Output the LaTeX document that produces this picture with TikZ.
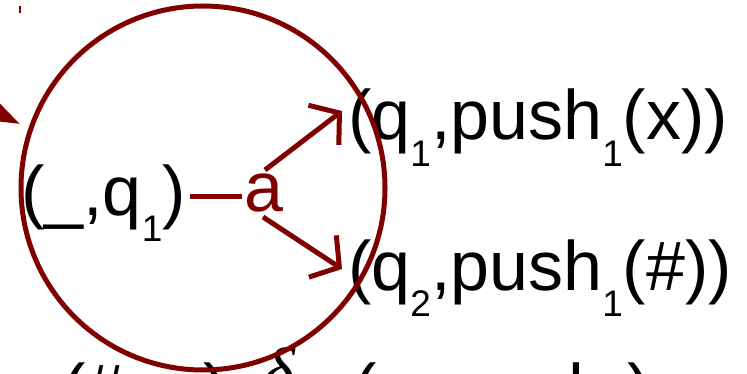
\documentclass[tikz,border=0pt]{standalone}
\usepackage{fontspec}
\setmainfont{Liberation Sans}
\newfontfamily\grkfont{Liberation Serif}
\usetikzlibrary{arrows.meta}
\definecolor{dred}{HTML}{800000}
\newcommand\sbx[1]{\raisebox{-27pt}{\fontsize{37}{40}\selectfont #1}}
\begin{document}
\begin{tikzpicture}[x=1pt,y=-1pt,
  lbl/.style={inner sep=0pt,anchor=base west,font=\fontsize{70}{80}\selectfont},
  redln/.style={draw=dred,line width=5pt},
  barb/.style={-{Straight Barb[length=20pt,width=50pt]}}]
\useasboundingbox (0,0) rectangle (747,374);
\clip (0,0) rectangle (747,374);
% texts
\node[lbl] (src) at (21,215) {(\_,q\sbx{1})};
\node[lbl,text=dred] (a) at (244,212) {a};
\node[lbl] (t1) at (348,140) {(q\sbx{1},push\sbx{1}(x))};
\node[lbl] (t2) at (348,290) {(q\sbx{2},push\sbx{1}(\#))};
\node[lbl] (b1) at (62,413) {(\#,q\sbx{1})};
\node[lbl] (b2) at (262,396) {\grkfont\itshape δ};
\node[lbl] (b3) at (353,413) {(q\sbx{1},push\sbx{1})};
% connectors
\coordinate (s0) at (190,197);
\coordinate (s1) at (242,197);
\coordinate (u0) at (265,170);
\coordinate (u1) at (342,111);
\coordinate (d0) at (263,217);
\coordinate (d1) at (342,269);
\draw[redln] (s0) -- (s1);
\draw[redln,barb] (u0) -- (u1);
\draw[redln,barb] (d0) -- (d1);
% circle
\coordinate (cc) at (203,188);
\draw[redln] (cc) circle[radius=182];
% incoming arrow (cut off)
\coordinate (in0) at (-80,75);
\coordinate (in1) at (20,124);
\draw[redln,-{Triangle[length=36pt,width=24pt]}] (in0) -- (in1);
\coordinate (k0) at (20,6);
\coordinate (k1) at (20,13);
\draw[dred,line width=1.5pt] (k0) -- (k1);
\end{tikzpicture}
\end{document}
